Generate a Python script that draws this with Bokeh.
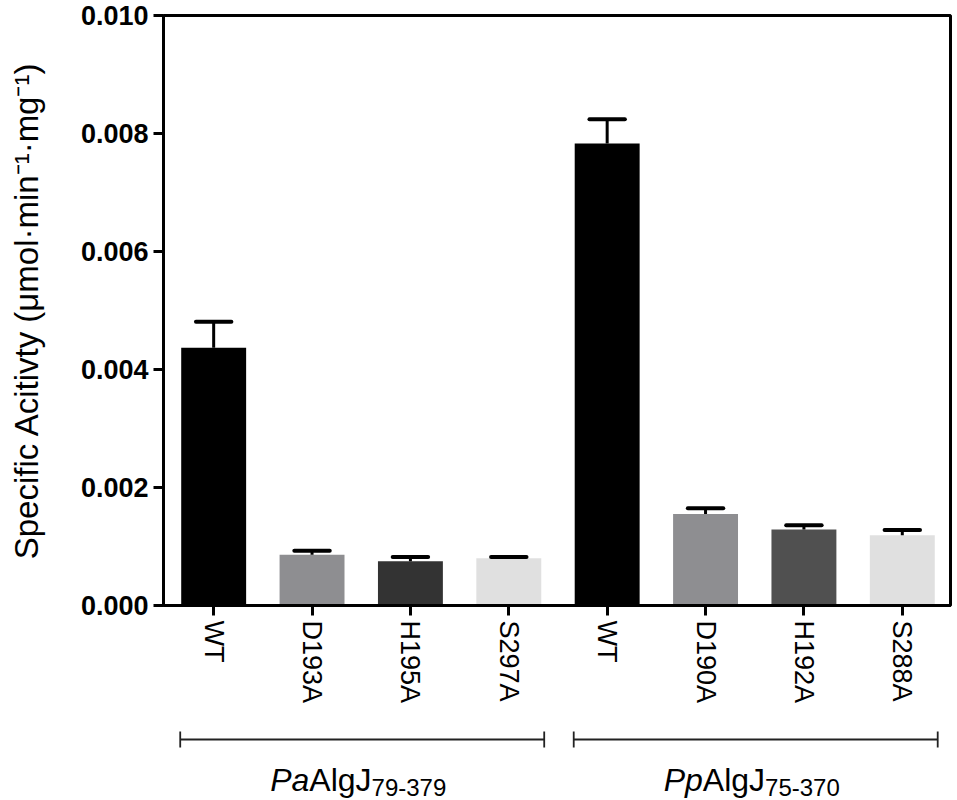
from bokeh.plotting import figure
from bokeh.layouts import column
from bokeh.models import Range1d, FixedTicker, PrintfTickFormatter, ColumnDataSource
from bokeh.core.properties import value
from bokeh.embed import file_html
from bokeh.resources import INLINE

# ---- data ----
labels = ["WT", "D193A", "H195A", "S297A", "WT", "D190A", "H192A", "S288A"]
groups = ["Pa", "Pp"]
group_names = ["AlgJ", "AlgJ"]
group_subs = ["79-379", "75-370"]
pa_means = [0.00437, 0.00086, 0.00075, 0.00080]
pa_errs = [0.00044, 0.00007, 0.00007, 0.00002]
pp_means = [0.00783, 0.00155, 0.00129, 0.00119]
pp_errs = [0.00041, 0.00010, 0.00007, 0.00009]
colors = ["#000000", "#8e8e91", "#333333", "#e0e0e0",
          "#000000", "#8e8e91", "#505050", "#e0e0e0"]
y_ticks = [0.0, 0.002, 0.004, 0.006, 0.008, 0.010]

means = pa_means + pp_means
errs = pa_errs + pp_errs
xs = list(range(len(labels)))
tops = [m + e for m, e in zip(means, errs)]

FONT = "Liberation Sans"

src = ColumnDataSource(dict(x=xs, top=means, err_top=tops, color=colors,
                            cl=[x - 0.18 for x in xs], cr=[x + 0.18 for x in xs]))

xr = Range1d(-0.51, 7.49)
p = figure(width=953, height=706, x_range=xr, y_range=Range1d(0, 0.010),
           output_backend="svg", toolbar_location=None,
           min_border_left=163, min_border_right=3, min_border_top=15, min_border_bottom=100)
p.background_fill_color = "white"
p.border_fill_color = "white"
p.outline_line_color = "black"
p.outline_line_width = 3
p.xgrid.visible = False
p.ygrid.visible = False

p.vbar(x="x", top="top", bottom=0, width=0.66, fill_color="color", line_color=None, source=src)
p.segment(x0="x", y0="top", x1="x", y1="err_top", line_color="black", line_width=3, source=src)
p.segment(x0="cl", y0="err_top", x1="cr", y1="err_top", line_color="black", line_width=4,
          line_cap="round", source=src)

# y axis
ya = p.yaxis[0]
ya.ticker = FixedTicker(ticks=y_ticks)
ya.formatter = PrintfTickFormatter(format="%.3f")
ya.axis_label = "Specific Acitivty (\u03bcmol\u00b7min\u207b\u00b9\u00b7mg\u207b\u00b9)"
ya.axis_label_text_font = FONT
ya.axis_label_text_font_size = "33px"
ya.axis_label_text_font_style = "normal"
ya.axis_label_text_color = "black"
ya.axis_label_standoff = 33
ya.major_label_text_font = FONT
ya.major_label_text_font_size = "27px"
ya.major_label_text_font_style = "bold"
ya.major_label_text_color = "black"
ya.major_label_standoff = 5
ya.major_tick_out = 10
ya.major_tick_in = 0
ya.minor_tick_out = 0
ya.minor_tick_in = 0
ya.major_tick_line_width = 3
ya.axis_line_width = 3

# x axis
xa = p.xaxis[0]
xa.ticker = FixedTicker(ticks=xs)
xa.major_label_overrides = {i: lab for i, lab in enumerate(labels)}
xa.major_label_orientation = "vertical"
xa.major_label_text_font = FONT
xa.major_label_text_font_size = "27px"
xa.major_label_text_color = "black"
xa.major_label_standoff = 5
xa.major_tick_out = 10
xa.major_tick_in = 0
xa.minor_tick_out = 0
xa.minor_tick_in = 0
xa.major_tick_line_width = 3
xa.axis_line_width = 3

# ---- group brackets ----
H2 = 94
p2 = figure(width=953, height=H2, x_range=xr, y_range=Range1d(H2, 0),
            output_backend="svg", toolbar_location=None,
            x_axis_location=None, y_axis_location=None,
            min_border_left=163, min_border_right=3, min_border_top=0, min_border_bottom=0)
p2.outline_line_color = None
p2.xgrid.visible = False
p2.ygrid.visible = False
p2.background_fill_color = "white"
p2.border_fill_color = "white"

n = 4
g_start = [xs[0] - 0.34, xs[n] - 0.34]
g_end = [xs[n - 1] + 0.36, xs[-1] + 0.36]
g_mid = [(xs[0] + xs[n - 1]) / 2, (xs[n] + xs[-1]) / 2]

p2.segment(x0=g_start, y0=[33, 33], x1=g_end, y1=[33, 33], line_color="#222222", line_width=1.8)
p2.segment(x0=g_start + g_end, y0=[25] * 4, x1=g_start + g_end, y1=[41] * 4,
           line_color="#222222", line_width=1.8)

fs_main, fs_sub = 32, 24
w_it = 1.223 * fs_main
w_main = 1.945 * fs_main
w_sub = 3.113 * fs_sub
start = -(w_it + w_main + w_sub) / 2 - 3
p2.text(x=g_mid, y=[73, 73], text=groups, x_offset=start, text_align="left",
        text_baseline="alphabetic", text_font=value(FONT), text_font_style="italic",
        text_font_size=f"{fs_main}px", text_color="black")
p2.text(x=g_mid, y=[73, 73], text=group_names, x_offset=start + w_it, text_align="left",
        text_baseline="alphabetic", text_font=value(FONT),
        text_font_size=f"{fs_main}px", text_color="black")
p2.text(x=g_mid, y=[81, 81], text=group_subs, x_offset=start + w_it + w_main, text_align="left",
        text_baseline="alphabetic", text_font=value(FONT),
        text_font_size=f"{fs_sub}px", text_color="black")

layout = column(p, p2, spacing=0)
open("out.html", "w").write(file_html(layout, INLINE))
